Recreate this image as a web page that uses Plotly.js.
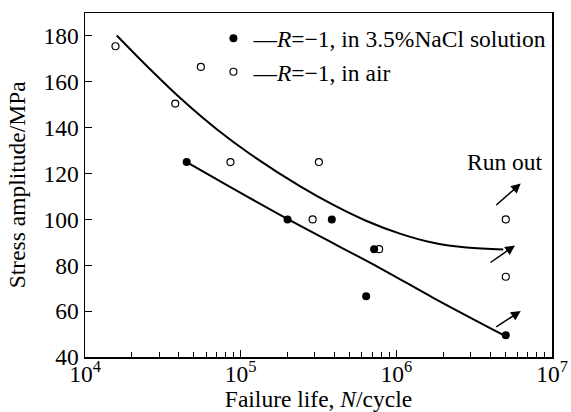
<!DOCTYPE html>
<html>
<head>
<meta charset="utf-8">
<script src="https://cdn.plot.ly/plotly-3.0.1.min.js"></script>
<style>html,body{margin:0;padding:0;background:#fff;}#chart{width:571px;height:412px;}</style>
</head>
<body>
<div id="chart"></div>
<script>
// Experimental points: R=-1 in 3.5% NaCl solution (filled)
const naclN = [4.5e4, 2.0e5, 3.85e5, 7.2e5, 6.4e5, 5.05e6];
const naclS = [125, 100, 100, 87, 66.5, 49.5];
// Experimental points: R=-1 in air (open)
const airN = [1.57e4, 3.8e4, 5.55e4, 8.6e4, 3.18e5, 2.9e5, 7.75e5, 5.05e6, 5.05e6];
const airS = [175.5, 150.5, 166.5, 125, 125, 100, 87, 100, 75];
// Fitted curve in air
const airFitN = [1.6e4, 2.61e4, 4.28e4, 7.02e4, 1.15e5, 2.4e5, 3.94e5, 6.44e5, 1.054e6, 1.726e6, 2.825e6, 4.86e6];
const airFitS = [180.2, 165.6, 151.7, 139.3, 128.5, 114.5, 106.3, 99.3, 93.8, 89.8, 87.7, 86.9];
// Fitted curve in NaCl solution
const naclFitN = [4.5e4, 1.97e5, 7.85e5, 1.726e6, 4.86e6];
const naclFitS = [125.0, 100.4, 78.8, 65.8, 49.6];
// Tick labels
const yTicks = [40, 60, 80, 100, 120, 140, 160, 180];
const xTickVals = [1e4, 1e5, 1e6, 1e7];
const xTickText = ['10<sup>4</sup>', '10<sup>5</sup>', '10<sup>6</sup>', '10<sup>7</sup>'];
// Run-out arrows: tip positions
const arrowN = [6.3e6, 5.78e6, 6.3e6];
const arrowS = [115.7, 88.6, 60.1];

const FONT = 'Liberation Serif, Times New Roman, serif';
const FS = 23.5;

const traces = [
  {x: airFitN, y: airFitS, mode: 'lines', line: {color: '#000', width: 2, shape: 'spline', smoothing: 1}, showlegend: false, hoverinfo: 'skip'},
  {x: naclFitN, y: naclFitS, mode: 'lines', line: {color: '#000', width: 2, shape: 'spline', smoothing: 1}, showlegend: false, hoverinfo: 'skip'},
  {x: naclN, y: naclS, mode: 'markers', name: '—<i>R</i>=−1, in 3.5%NaCl solution',
   marker: {symbol: 'circle', size: 8, color: '#000'}},
  {x: airN, y: airS, mode: 'markers', name: '—<i>R</i>=−1, in air',
   marker: {symbol: 'circle-open', size: 7, color: '#000', line: {width: 1.2, color: '#000'}}}
];

const annotations = arrowN.map((n, i) => ({
  x: Math.log10(n), y: arrowS[i], xref: 'x', yref: 'y', text: '', showarrow: true,
  arrowhead: 2, arrowsize: 1.3, arrowwidth: 1.5, arrowcolor: '#000',
  ax: -26, ay: [23, 18, 17][i]
}));
annotations.push({x: Math.log10(5e6), y: 125, xref: 'x', yref: 'y', text: 'Run out',
  showarrow: false, font: {family: FONT, size: FS, color: '#000'}});
annotations.push({x: -0.145, y: 0.5, xref: 'paper', yref: 'paper', text: 'Stress amplitude/MPa',
  textangle: -90, showarrow: false, xanchor: 'center', yanchor: 'middle',
  font: {family: FONT, size: FS, color: '#000'}});

const layout = {
  width: 571, height: 412,
  margin: {l: 85, r: 19, t: 13, b: 55},
  paper_bgcolor: '#fff', plot_bgcolor: '#fff',
  font: {family: FONT, size: FS, color: '#000'},
  xaxis: {
    type: 'log', range: [4, 7], tickvals: xTickVals, ticktext: xTickText,
    ticks: 'inside', ticklen: 7, tickwidth: 1, tickcolor: '#000', ticklabelstandoff: -5,
    minor: {ticks: 'inside', ticklen: 5, tickwidth: 1, tickcolor: '#000', dtick: 'D1', showgrid: false},
    showline: true, linecolor: '#000', linewidth: 1.5, mirror: true,
    showgrid: false, zeroline: false,
    tickfont: {family: FONT, size: FS, color: '#000'},
    title: {text: 'Failure life, <i>N</i>/cycle', font: {family: FONT, size: FS, color: '#000'}, standoff: 7}
  },
  yaxis: {
    range: [40, 190], tickvals: yTicks,
    ticks: 'inside', ticklen: 7, tickwidth: 1, tickcolor: '#000',
    showline: true, linecolor: '#000', linewidth: 1.5, mirror: true,
    showgrid: false, zeroline: false,
    tickfont: {family: FONT, size: FS, color: '#000'}
  },
  legend: {x: 0.275, y: 0.99, xanchor: 'left', yanchor: 'top', bgcolor: 'rgba(0,0,0,0)',
    font: {family: FONT, size: FS, color: '#000'}, tracegroupgap: 0, itemwidth: 30},
  annotations: annotations,
  showlegend: true
};

Plotly.newPlot('chart', traces, layout, {displayModeBar: false, staticPlot: true});
</script>
</body>
</html>
